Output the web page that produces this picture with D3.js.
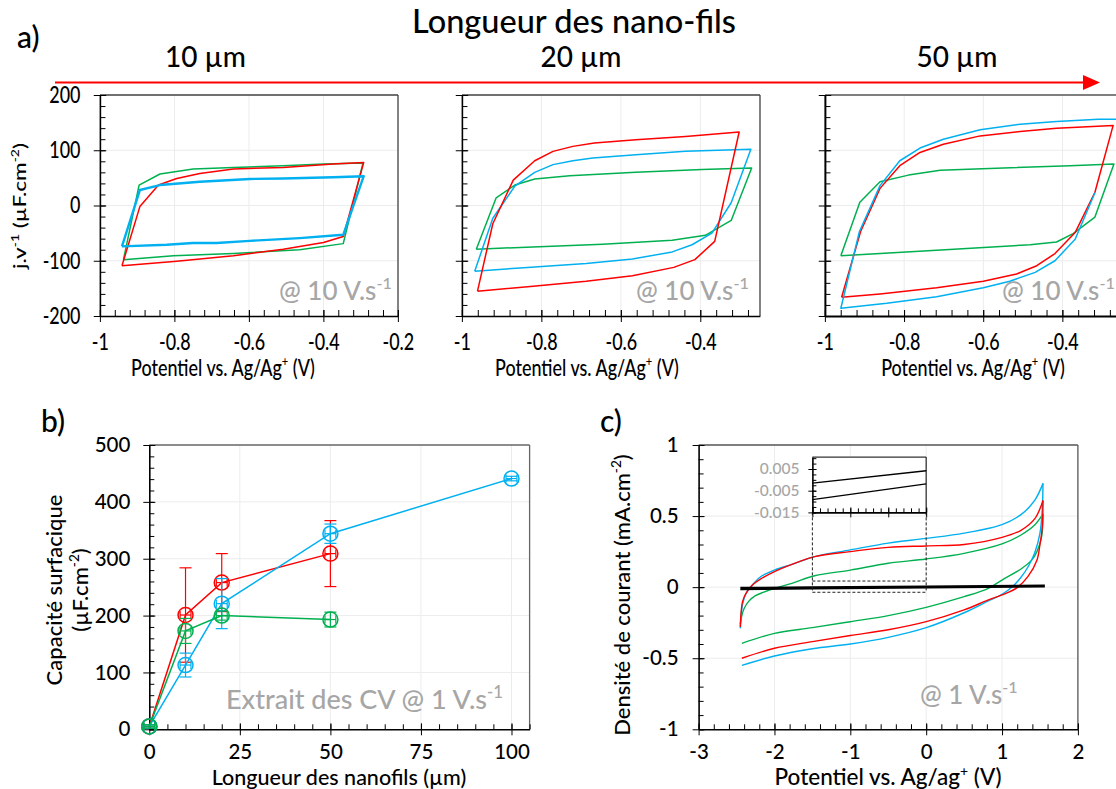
<!DOCTYPE html>
<html><head><meta charset="utf-8">
<script src="https://cdn.jsdelivr.net/npm/d3@7"></script>
<style>
body{margin:0;background:#fff;}
svg{display:block;font-family:Lato,"Open Sans",sans-serif;font-weight:500;}
.pa path,.pa line{vector-effect:non-scaling-stroke;}
</style></head><body>
<script>
// ================= DATA =================
// Panel a : CV @ 10 V/s  [potential (V), j/v (µF/cm²)]
const a1Green = [[-0.937,-98],[-0.895,37],[-0.839,57],[-0.75,66],[-0.642,69],[-0.508,72],[-0.40,75],[-0.294,77],[-0.347,-69],[-0.464,-80],[-0.642,-87],[-0.803,-91],[-0.937,-98]];
const a1Red = [[-0.941,-109],[-0.893,-2],[-0.843,37],[-0.794,49],[-0.732,58],[-0.642,66],[-0.508,69],[-0.374,75],[-0.292,78],[-0.347,-56],[-0.40,-67],[-0.508,-79],[-0.642,-91],[-0.794,-101],[-0.941,-109]];
const a1Blue = [[-0.941,-74],[-0.893,28],[-0.839,37],[-0.732,43],[-0.598,48],[-0.508,49],[-0.374,51],[-0.292,53],[-0.347,-53],[-0.464,-59],[-0.598,-64],[-0.687,-68],[-0.75,-68],[-0.821,-71],[-0.941,-74]];
const a2Red = [[-0.961,-155],[-0.9225,-33],[-0.871,46],[-0.817,81],[-0.771,98],[-0.721,107],[-0.667,113],[-0.5625,119],[-0.4375,125],[-0.3025,133],[-0.364,-65],[-0.414,-98],[-0.467,-112],[-0.571,-127],[-0.6875,-137],[-0.821,-146],[-0.961,-155]];
const a2Blue = [[-0.968,-119],[-0.9225,-23],[-0.867,35],[-0.817,60],[-0.771,74],[-0.721,81],[-0.671,86],[-0.5625,92],[-0.4375,98],[-0.273,102],[-0.3225,5],[-0.371,-50],[-0.421,-71],[-0.471,-84],[-0.571,-97],[-0.6875,-105],[-0.854,-113],[-0.968,-119]];
const a2Green = [[-0.964,-79],[-0.914,14],[-0.867,37],[-0.817,48],[-0.729,54],[-0.5625,60],[-0.396,65],[-0.271,68],[-0.3225,-27],[-0.3875,-54],[-0.471,-63],[-0.646,-70],[-0.854,-76],[-0.964,-79]];
const a3Red = [[-0.958,-166],[-0.91,-47],[-0.861,31],[-0.811,72],[-0.76,96],[-0.701,111],[-0.608,126],[-0.507,134],[-0.415,140],[-0.272,145],[-0.318,24],[-0.368,-49],[-0.419,-87],[-0.465,-109],[-0.516,-124],[-0.6,-137],[-0.718,-149],[-0.861,-160],[-0.958,-166]];
const a3Blue = [[-0.318,23],[-0.368,-61],[-0.419,-100],[-0.469,-121],[-0.533,-137],[-0.6,-149],[-0.718,-165],[-0.844,-177],[-0.96,-186],[-0.913,-47],[-0.861,36],[-0.811,81],[-0.76,104],[-0.701,120],[-0.608,137],[-0.507,147],[-0.415,152],[-0.309,156],[-0.235,156]];
const a3Green = [[-0.96,-91],[-0.912,6],[-0.861,43],[-0.789,55],[-0.709,64],[-0.549,68],[-0.381,72],[-0.27,75],[-0.318,-21],[-0.373,-51],[-0.415,-66],[-0.482,-71],[-0.718,-81],[-0.96,-91]];
const aLengths = ["10 µm","20 µm","50 µm"];
const aXTicks = [-1,-0.8,-0.6,-0.4,-0.2];
const aYTicks = [-200,-100,0,100,200];

// Panel b : capacitance vs length
const lengths = [0,10,20,50,100];
const capRed = [5,201,258,309];
const capRedErr = [3,83,51,58];
const capBlue = [5,113,221,344,441];
const capBlueErr = [3,21,44,17,4];
const capGreen = [5,173,200,193];
const capGreenErr = [3,22,8,13];
const lenErr = 1.5;
const bXTicks = [0,25,50,75,100];
const bYTicks = [0,100,200,300,400,500];

// Panel c : CV @ 1 V/s  [potential (V), current density (mA/cm²)]
const cBlueUp = [[-2.45,-0.29],[-2.44,-0.2],[-2.42,-0.12],[-2.38,-0.05],[-2.3,0.01],[-2.19,0.07],[-2.0,0.12],[-1.77,0.16],[-1.47,0.215],[-1.0,0.262],[-0.5,0.31],[0,0.343],[0.5,0.38],[1.0,0.44],[1.25,0.51],[1.43,0.61],[1.54,0.73]];
const cBlueDown = [[1.54,0.73],[1.53,0.55],[1.5,0.38],[1.43,0.24],[1.34,0.14],[1.25,0.07],[1.15,0.01],[1.0,-0.05],[0.82,-0.097],[0.5,-0.18],[0,-0.285],[-0.5,-0.353],[-1.0,-0.40],[-1.5,-0.433],[-2.0,-0.484],[-2.43,-0.55]];
const cRedUp = [[-2.45,-0.28],[-2.44,-0.18],[-2.42,-0.1],[-2.36,-0.03],[-2.28,0.02],[-2.19,0.055],[-2.0,0.11],[-1.77,0.16],[-1.47,0.215],[-1.0,0.25],[-0.5,0.28],[0,0.29],[0.5,0.30],[1.0,0.35],[1.25,0.40],[1.43,0.48],[1.54,0.61]];
const cRedDown = [[1.54,0.61],[1.53,0.42],[1.5,0.30],[1.46,0.19],[1.34,0.074],[1.2,-0.003],[1.0,-0.055],[0.82,-0.09],[0.5,-0.16],[0,-0.243],[-0.5,-0.30],[-1.0,-0.34],[-1.5,-0.383],[-2.0,-0.43],[-2.43,-0.50]];
const cGreenUp = [[-2.45,-0.26],[-2.43,-0.2],[-2.4,-0.15],[-2.34,-0.1],[-2.25,-0.06],[-2.14,-0.035],[-2.0,-0.008],[-1.77,0.027],[-1.47,0.08],[-1.0,0.12],[-0.5,0.168],[0,0.198],[0.5,0.238],[1.0,0.304],[1.25,0.367],[1.43,0.437],[1.54,0.515]];
const cGreenDown = [[1.54,0.515],[1.52,0.35],[1.46,0.25],[1.39,0.19],[1.25,0.128],[1.0,0.05],[0.82,-0.008],[0.5,-0.067],[0,-0.142],[-0.5,-0.20],[-1.0,-0.243],[-1.5,-0.285],[-2.0,-0.325],[-2.43,-0.395]];
const cBlack = [[-2.45,-0.0055],[-1.5,-0.0015],[0,0.0042],[1.55,0.0102],[1.55,0.0055],[0,-0.0019],[-1.5,-0.0091],[-2.45,-0.0137]];
const cXTicks = [-3,-2,-1,0,1,2];
const cYTicks = [-1,-0.5,0,0.5,1];
const insetYTicks = [-0.015,-0.005,0.005];
const insetXTicks = [-1.5,-1,-0.5,0];

// ================= DRAW =================
const W = 1116, H = 789;
const RED = "#ff0000", BLUE = "#00b0f0", GREEN = "#00b050", GRAY = "#a6a6a6";
const svg = d3.select("body").append("svg").attr("width", W).attr("height", H);
const fmt = d => String(+(+d).toFixed(4));
const rng = (a, b, s) => d3.range(Math.round((b - a) / s) + 1).map(i => +(a + i * s).toFixed(5));

function rich(text, parts, fs) {
  let up = false;
  parts.forEach(p => {
    const t = text.append("tspan").text(p[0]);
    if (p[1]) { t.attr("font-size", fs * 0.62); if (!up) t.attr("dy", -fs * 0.42); up = true; }
    else if (up) { t.attr("dy", fs * 0.42); up = false; }
  });
}
function label(g, x, y, parts, fs, o = {}) {
  const t = g.append("text").attr("x", x).attr("y", y).attr("font-size", fs)
    .attr("text-anchor", o.anchor || "middle").attr("fill", o.fill || "#000");
  if (o.rotate) t.attr("transform", `rotate(-90,${x},${y})`);
  rich(t, parts, fs);
  return t;
}

function axes(g, x, y, o) {
  const [xl, xr] = x.range(), [yb, yt] = y.range();
  if (o.xGrid) g.append("g").selectAll("line").data(o.xGrid).join("line")
    .attr("x1", d => x(d)).attr("x2", d => x(d)).attr("y1", yb).attr("y2", yt)
    .attr("stroke", "#ececec").attr("stroke-width", 1);
  if (o.yGrid) g.append("g").selectAll("line").data(o.yGrid).join("line")
    .attr("y1", d => y(d)).attr("y2", d => y(d)).attr("x1", xl).attr("x2", xr)
    .attr("stroke", "#ececec").attr("stroke-width", 1);
  g.append("line").attr("x1", xl).attr("x2", xr).attr("y1", yt).attr("y2", yt).attr("stroke", o.frame || "#404040").attr("stroke-width", 1.3);
  g.append("line").attr("x1", xr).attr("x2", xr).attr("y1", yt).attr("y2", yb).attr("stroke", o.frame || "#404040").attr("stroke-width", 1.3);
  const gs = [];
  gs.push(g.append("g").attr("transform", `translate(0,${yb})`).call(d3.axisBottom(x).tickValues(o.xMinor).tickSize(-o.mx).tickSizeOuter(0).tickFormat("")));
  gs.push(g.append("g").attr("transform", `translate(0,${yb})`).call(d3.axisBottom(x).tickValues(o.xMajor).tickSize(-o.tx).tickSizeOuter(0).tickFormat("")));
  gs.push(g.append("g").attr("transform", `translate(${xl},0)`).call(d3.axisLeft(y).tickValues(o.yMinor).tickSize(-o.my).tickSizeOuter(0).tickFormat("")));
  gs.push(g.append("g").attr("transform", `translate(${xl},0)`).call(d3.axisLeft(y).tickValues(o.yMajor).tickSize(-o.ty).tickSizeOuter(0).tickFormat("")));
  gs.forEach(s => s.select(".domain").remove());
  const xa = g.append("g").attr("transform", `translate(0,${yb})`)
    .call(d3.axisBottom(x).tickValues(o.xMajor).tickSize(o.tx).tickSizeOuter(0).tickPadding(o.px).tickFormat(o.xFmt));
  const ya = g.append("g").attr("transform", `translate(${xl},0)`)
    .call(d3.axisLeft(y).tickValues(o.yMajor).tickSize(o.ty).tickSizeOuter(0).tickPadding(o.py).tickFormat(o.yFmt));
  [...gs, xa, ya].forEach(s => {
    s.attr("font-family", null).attr("font-size", o.fs);
    s.selectAll(".tick line").attr("stroke", "#000").attr("stroke-width", 1);
    s.selectAll(".tick text").attr("fill", o.labelFill || "#000");
    s.select(".domain").attr("stroke", "#000").attr("stroke-width", o.dw || 1.6);
  });
  xa.selectAll(".tick text").filter(function () { return this.textContent === ""; }).remove();
  ya.selectAll(".tick text").filter(function () { return this.textContent === ""; }).remove();
}

// ---------- Panel a ----------
label(svg, 17, 48, [["a)"]], 30, { anchor: "start" });
label(svg, 574, 32.5, [["Longueur des nano-fils"]], 32.5);
svg.append("line").attr("x1", 55).attr("x2", 1086).attr("y1", 82.5).attr("y2", 82.5).attr("stroke", RED).attr("stroke-width", 2);
svg.append("path").attr("d", d3.line()([[1083, 75], [1100, 82.5], [1083, 90]]) + "Z").attr("fill", RED);

const K = 0.78;
const aPanels = [
  { L: 100, R: 398, dom: [-1, -0.2], data: [a1Green, a1Red, a1Blue], bw: 2.4, head: 205.5, tx: 223, ylab: true, note: 279 },
  { L: 462, R: 760, dom: [-1, -0.25], data: [a2Green, a2Blue, a2Red], bw: 1.5, head: 581, tx: 587, ylab: false, note: 636 },
  { L: 825, R: 825 + 0.8 * 395.8, dom: [-1, -0.2], data: [a3Green, a3Red, a3Blue], bw: 1.5, head: 957, tx: 973, ylab: false, note: 1002 }
];
aPanels.forEach((p, i) => {
  label(svg, p.head, 67, [[aLengths[i]]], 28);
  const g = svg.append("g").attr("class", "pa").attr("transform", `translate(${p.L},0) scale(${K},1)`);
  const x = d3.scaleLinear().domain(p.dom).range([0, (p.R - p.L) / K]);
  const y = d3.scaleLinear().domain([-200, 200]).range([316, 95]);
  const xMaj = aXTicks.filter(v => v <= p.dom[1] + 1e-9);
  axes(g, x, y, {
    xMajor: xMaj, xMinor: rng(-1, p.dom[1], 0.04).filter(v => v <= p.dom[1] + 1e-9),
    yMajor: aYTicks, yMinor: rng(-200, 200, 20),
    xGrid: xMaj.filter(v => v > -1 && v < p.dom[1] - 1e-6), yGrid: [-100, 0, 100],
    tx: 6, mx: 6, ty: 8, my: 7, px: 12, py: 17, fs: 23,
    xFmt: d => (i === 2 && d > -0.3) ? "" : fmt(d), yFmt: p.ylab ? fmt : "",
    frame: i === 2 ? "#555" : "#404040", dw: i === 2 ? 2 : 1.6
  });
  const line = d3.line().x(d => x(d[0])).y(d => y(d[1]));
  const cols = i === 0 ? [GREEN, RED, BLUE] : (i === 1 ? [GREEN, BLUE, RED] : [GREEN, RED, BLUE]);
  p.data.forEach((d, j) => {
    g.append("path").datum(d).attr("d", line).attr("fill", "none").attr("stroke", cols[j])
      .attr("stroke-width", cols[j] === BLUE ? p.bw : 1.5).attr("stroke-linejoin", "round");
  });
  label(g, (p.tx - p.L) / K, 376, [["Potentiel vs. Ag/Ag"], ["+", 1], [" (V)"]], 23);
  if (p.ylab) label(g, (20 - p.L) / K + 8, 206, [["j.v"], ["-1", 1], [" (µF.cm"], ["-2", 1], [")"]], 22.5, { rotate: true });
  label(svg, p.note, 300, [["@ 10 V.s"], ["-1", 1]], 26, { anchor: "start", fill: GRAY });
});

// ---------- Panel b ----------
label(svg, 41, 432, [["b)"]], 30, { anchor: "start" });
const gb = svg.append("g");
const xb = d3.scaleLinear().domain([0, 105]).range([149.3, 529.6]);
const yb = d3.scaleLinear().domain([0, 500]).range([729.3, 445]);
axes(gb, xb, yb, {
  xMajor: bXTicks, xMinor: rng(0, 105, 5), yMajor: bYTicks, yMinor: rng(0, 500, 20),
  xGrid: [25, 50, 75, 100], yGrid: [100, 200, 300, 400],
  tx: 6, mx: 5, ty: 6, my: 5, px: 9, py: 13, fs: 20.5, xFmt: fmt, yFmt: fmt, frame: "#666"
});
function seriesB(vals, errs, color) {
  const pts = vals.map((v, i) => ({ x: lengths[i], y: v, e: errs[i] }));
  gb.append("path").datum(pts).attr("d", d3.line().x(d => xb(d.x)).y(d => yb(d.y)))
    .attr("fill", "none").attr("stroke", color).attr("stroke-width", 1.5);
  const eg = gb.append("g").attr("stroke", color).attr("fill", "none").selectAll("g").data(pts).join("g");
  eg.append("line").attr("x1", d => xb(d.x)).attr("x2", d => xb(d.x)).attr("y1", d => yb(d.y - d.e)).attr("y2", d => yb(d.y + d.e)).attr("stroke-width", 1.2);
  eg.append("line").attr("x1", d => xb(d.x) - 6).attr("x2", d => xb(d.x) + 6).attr("y1", d => yb(d.y - d.e)).attr("y2", d => yb(d.y - d.e)).attr("stroke-width", 1.2);
  eg.append("line").attr("x1", d => xb(d.x) - 6).attr("x2", d => xb(d.x) + 6).attr("y1", d => yb(d.y + d.e)).attr("y2", d => yb(d.y + d.e)).attr("stroke-width", 1.2);
  eg.append("line").attr("x1", d => xb(d.x - lenErr)).attr("x2", d => xb(d.x + lenErr)).attr("y1", d => yb(d.y)).attr("y2", d => yb(d.y)).attr("stroke-width", 1.2);
  eg.append("line").attr("x1", d => xb(d.x - lenErr)).attr("x2", d => xb(d.x - lenErr)).attr("y1", d => yb(d.y) - 4).attr("y2", d => yb(d.y) + 4).attr("stroke-width", 1.2);
  eg.append("line").attr("x1", d => xb(d.x + lenErr)).attr("x2", d => xb(d.x + lenErr)).attr("y1", d => yb(d.y) - 4).attr("y2", d => yb(d.y) + 4).attr("stroke-width", 1.2);
  eg.append("circle").attr("cx", d => xb(d.x)).attr("cy", d => yb(d.y)).attr("r", 7.5).attr("stroke-width", 1.5);
}
seriesB(capRed, capRedErr, RED);
seriesB(capBlue, capBlueErr, BLUE);
seriesB(capGreen, capGreenErr, GREEN);
label(svg, 62, 590, [["Capacité surfacique"]], 22, { rotate: true });
label(svg, 88, 590, [["(µF.cm"], ["-2", 1], [")"]], 22, { rotate: true });
label(svg, 339, 785, [["Longueur des nanofils (µm)"]], 21.5);
label(svg, 226, 709, [["Extrait des CV @ 1 V.s"], ["-1", 1]], 27, { anchor: "start", fill: GRAY });

// ---------- Panel c ----------
label(svg, 600, 432, [["c)"]], 30, { anchor: "start" });
const gc = svg.append("g");
const xc = d3.scaleLinear().domain([-3, 2]).range([698.6, 1077.9]);
const yc = d3.scaleLinear().domain([-1, 1]).range([729.3, 445]);
axes(gc, xc, yc, {
  xMajor: cXTicks, xMinor: rng(-3, 2, 0.2), yMajor: cYTicks, yMinor: rng(-1, 1, 0.1),
  xGrid: [-2, -1, 0, 1], yGrid: [-0.5, 0, 0.5],
  tx: 6, mx: 5, ty: 6, my: 5, px: 9, py: 14, fs: 20.5, xFmt: fmt, yFmt: fmt, frame: "#555"
});
const lc = d3.line().x(d => xc(d[0])).y(d => yc(d[1])).curve(d3.curveCatmullRom);
[[cGreenUp, cGreenDown, GREEN], [cBlueUp, cBlueDown, BLUE], [cRedUp, cRedDown, RED]].forEach(([u, dn, col]) => {
  gc.append("path").datum(u).attr("d", lc).attr("fill", "none").attr("stroke", col).attr("stroke-width", 1.4);
  gc.append("path").datum(dn).attr("d", lc).attr("fill", "none").attr("stroke", col).attr("stroke-width", 1.4);
});
gc.append("path").datum(cBlack).attr("d", d3.line().x(d => xc(d[0])).y(d => yc(d[1]))).attr("fill", "none").attr("stroke", "#000").attr("stroke-width", 2.2);
const dash = gc.append("g").attr("stroke", "#222").attr("stroke-width", 1).attr("stroke-dasharray", "3,2").attr("fill", "none");
dash.append("line").attr("x1", xc(-1.5)).attr("x2", xc(-1.5)).attr("y1", yc(0.526)).attr("y2", yc(-0.036));
dash.append("line").attr("x1", xc(0)).attr("x2", xc(0)).attr("y1", yc(0.526)).attr("y2", yc(-0.036));
dash.append("line").attr("x1", xc(-1.5)).attr("x2", xc(0)).attr("y1", yc(0.043)).attr("y2", yc(0.043));
dash.append("line").attr("x1", xc(-1.5)).attr("x2", xc(0)).attr("y1", yc(-0.036)).attr("y2", yc(-0.036));
const gi = svg.append("g");
const xi = d3.scaleLinear().domain([-1.5, 0]).range([xc(-1.5), xc(0)]);
const yi = d3.scaleLinear().domain([-0.015, 0.0105]).range([yc(0.526), yc(0.915)]);
gi.append("rect").attr("x", xi.range()[0]).attr("y", yi.range()[1]).attr("width", xi.range()[1] - xi.range()[0]).attr("height", yi.range()[0] - yi.range()[1]).attr("fill", "#fff");
axes(gi, xi, yi, {
  xMajor: insetXTicks, xMinor: rng(-1.5, 0, 0.1), yMajor: insetYTicks, yMinor: rng(-0.015, 0.01, 0.0025),
  tx: 5, mx: 4, ty: 4, my: 4, px: 4, py: 9, fs: 15.5, xFmt: "", yFmt: fmt, labelFill: GRAY, frame: "#333", dw: 1.6
});
svg.append("defs").append("clipPath").attr("id", "ic").append("rect")
  .attr("x", xi.range()[0]).attr("y", yi.range()[1]).attr("width", xi.range()[1] - xi.range()[0]).attr("height", yi.range()[0] - yi.range()[1]);
const half = cBlack.length / 2;
[cBlack.slice(0, half), cBlack.slice(half)].forEach(d => {
  gi.append("path").datum(d).attr("clip-path", "url(#ic)").attr("d", d3.line().x(p => xi(p[0])).y(p => yi(p[1])))
    .attr("fill", "none").attr("stroke", "#000").attr("stroke-width", 1.3);
});
label(svg, 630, 595, [["Densité de courant (mA.cm"], ["-2", 1], [")"]], 22, { rotate: true });
label(svg, 888, 785, [["Potentiel vs. Ag/ag"], ["+", 1], [" (V)"]], 22.5);
label(svg, 920, 704, [["@ 1 V.s"], ["-1", 1]], 26, { anchor: "start", fill: GRAY });
</script></body></html>
